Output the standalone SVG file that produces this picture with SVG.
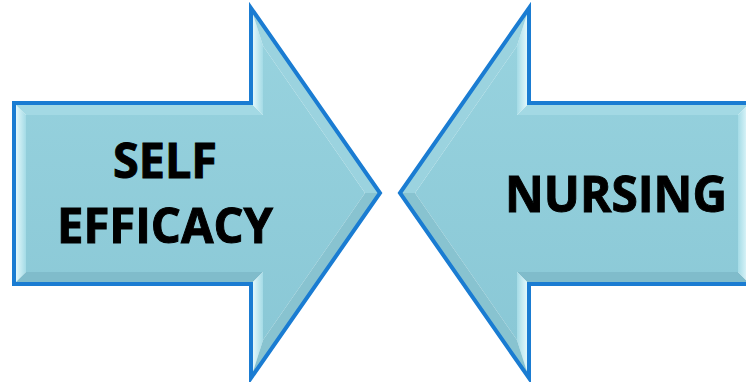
<svg xmlns="http://www.w3.org/2000/svg" width="746" height="382" viewBox="0 0 746 382">
  <defs>
    <linearGradient id="faceL" x1="0" y1="0" x2="0" y2="1">
      <stop offset="0" stop-color="#97d2de"/>
      <stop offset="1" stop-color="#8ac8d6"/>
    </linearGradient>
    <linearGradient id="lightH" x1="0" y1="0" x2="1" y2="0">
      <stop offset="0" stop-color="#eefdff"/>
      <stop offset="1" stop-color="#a4dbe6"/>
    </linearGradient>
    <linearGradient id="lightHR" x1="1" y1="0" x2="0" y2="0">
      <stop offset="0" stop-color="#eefdff"/>
      <stop offset="1" stop-color="#a4dbe6"/>
    </linearGradient>
    <style>
      .face { fill: url(#faceL); }
      .topb { fill: #a3d9e4; }
      .botb { fill: #80bccb; }
      .diagT { fill: #9bd3df; }
      .diagB { fill: #88c3d0; }
      .lightL { fill: url(#lightH); }
      .lightR { fill: url(#lightHR); }
      .outline { fill: none; stroke: #1a7cd2; stroke-width: 4; stroke-linejoin: miter; }
      .lbl { font-family: "Open Sans", "Noto Sans", "Liberation Sans", sans-serif; font-weight: bold; fill: #000; stroke: #000; stroke-width: 1; text-anchor: middle; }
    </style>
  </defs>

  <g id="self-efficacy">
    <polygon class="face" points="26,115 263,115 263,46 365,193 263,340 263,272 26,272"/>
    <polygon class="lightL" points="14,103 26,115 26,272 14,284"/>
    <polygon class="topb" points="14,103 251,103 263,115 26,115"/>
    <polygon class="botb" points="14,284 251,284 263,272 26,272"/>
    <polygon class="lightL" points="251,8 251,103 263,115 263,46"/>
    <polygon class="lightL" points="251,378 251,284 263,272 263,340"/>
    <polygon class="diagT" points="251,8 380,193 365,193 263,46"/>
    <polygon class="diagB" points="380,193 251,378 263,340 365,193"/>
    <polygon class="outline" points="14,103 251,103 251,8 380,193 251,378 251,284 14,284"/>
    <text class="lbl" x="165" y="178" font-size="49" textLength="104" lengthAdjust="spacingAndGlyphs">SELF</text>
    <text class="lbl" x="165" y="243" font-size="49" textLength="216" lengthAdjust="spacingAndGlyphs">EFFICACY</text>
  </g>

  <g id="nursing">
    <polygon class="face" points="415,193 517,46 517,115 738,115 738,272 517,272 517,340"/>
    <polygon class="topb" points="529,103 750,103 738,115 517,115"/>
    <polygon class="botb" points="529,284 750,284 738,272 517,272"/>
    <polygon class="lightR" points="750,103 750,284 738,272 738,115"/>
    <polygon class="lightR" points="529,8 529,103 517,115 517,46"/>
    <polygon class="lightR" points="529,378 529,284 517,272 517,340"/>
    <polygon class="diagT" points="529,8 400,193 415,193 517,46"/>
    <polygon class="diagB" points="400,193 529,378 517,340 415,193"/>
    <polygon class="outline" points="400,193 529,8 529,103 750,103 750,284 529,284 529,378"/>
    <text class="lbl" x="616" y="212" font-size="51" textLength="222" lengthAdjust="spacingAndGlyphs">NURSING</text>
  </g>

  <g id="connectors"/>
</svg>
